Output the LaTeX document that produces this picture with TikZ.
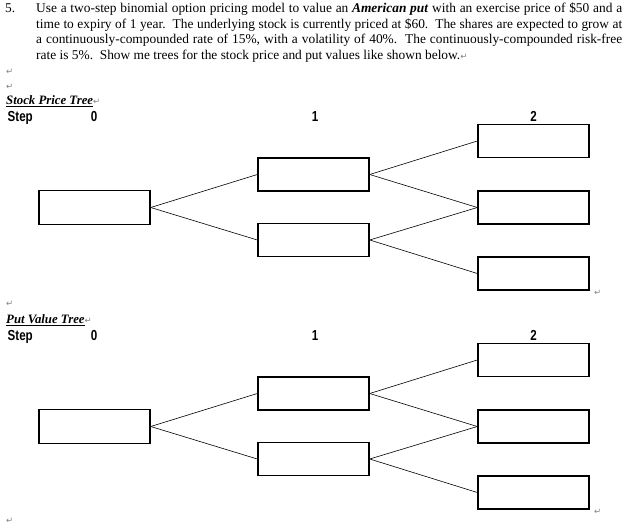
\documentclass[tikz,border=0pt]{standalone}
\usepackage{fontspec}
\setmainfont{Liberation Serif}
\newfontfamily\stepfont[FakeStretch=0.8]{Liberation Sans}
\newfontfamily\markfont{DejaVu Sans}
\usepackage{tikz}
\usetikzlibrary{positioning}

\newcommand{\retmark}{{\markfont\color{gray}\fontsize{8.5}{8.5}\selectfont ↵}}

\begin{document}
\begin{tikzpicture}[x=1pt,y=-1pt,
		value_box/.style={rectangle,draw=black,line width=1.4pt,minimum width=111pt,minimum height=33pt,inner sep=0pt},
		branch_edge/.style={line width=0.6pt,black},
		body_text/.style={anchor=base west,inner sep=0pt,font=\fontsize{13.4}{15}\selectfont},
		title_text/.style={anchor=base west,inner sep=0pt,font=\fontsize{12.8}{15}\selectfont},
		step_label/.style={anchor=base,inner sep=0pt,font=\stepfont\bfseries\fontsize{14.5}{16}\selectfont},
		mark_label/.style={anchor=base west,inner sep=0pt}
		]
		\useasboundingbox (0,0) rectangle (633,527);
		
		% question text
		\node[body_text] (qnum) at (5,13) {5.};
		\node[body_text] (q1) at (36,13) {\makebox[586pt][s]{Use a two-step binomial option pricing model to value an \textbf{\textit{American put}} with an exercise price of \$50 and a}};
		\node[body_text] (q2) at (36,28.5) {\makebox[586pt][s]{time to expiry of 1 year.\ \ The underlying stock is currently priced at \$60.\ \ The shares are expected to grow at}};
		\node[body_text] (q3) at (36,44) {\makebox[586pt][s]{a continuously-compounded rate of 15\%, with a volatility of 40\%.\ \ The continuously-compounded risk-free}};
		\node[body_text] (q4) at (36,59.5) {rate is 5\%.\ \ Show me trees for the stock price and put values like shown below.\retmark};
		\node[mark_label] (r1) at (6,75) {\retmark};
		\node[mark_label] (r2) at (6,90) {\retmark};
		
		% both trees, the put tree is 219 lower
		\foreach \tr/\off/\title in {s/0/Stock Price Tree, p/219/Put Value Tree} {
			\begin{scope}[shift={(0,\off)}]
				\node[title_text] (\tr_title) at (6,104.5) {\underline{\textbf{\textit{\title}}}\retmark};
				\node[step_label,anchor=base west] (\tr_step) at (7.5,121.5) {Step};
				\node[step_label] (\tr_n0) at (94,121.5) {0};
				\node[step_label] (\tr_n1) at (315,121.5) {1};
				\node[step_label] (\tr_n2) at (533.5,121.5) {2};
				
				\node[value_box,minimum height=34pt] (\tr_0) at (94.5,207.5) {};
				\node[value_box] (\tr_u) at (313.5,174.5) {};
				\node[value_box] (\tr_d) at (313.5,240) {};
				\node[value_box] (\tr_uu) at (533.5,141) {};
				\node[value_box] (\tr_ud) at (533.5,207.5) {};
				\node[value_box] (\tr_dd) at (533.5,273.5) {};
				
				\draw[branch_edge] (\tr_0.east) -- (\tr_u.west);
				\draw[branch_edge] (\tr_0.east) -- (\tr_d.west);
				\draw[branch_edge] (\tr_u.east) -- (\tr_uu.west);
				\draw[branch_edge] (\tr_u.east) -- (\tr_ud.west);
				\draw[branch_edge] (\tr_d.east) -- (\tr_ud.west);
				\draw[branch_edge] (\tr_d.east) -- (\tr_dd.west);
				
				\node[mark_label] (\tr_end) at (594,295) {\retmark};
			\end{scope}
		}
		\node[mark_label] (r3) at (6,306) {\retmark};
		\node[mark_label] (r4) at (6,523) {\retmark};
	\end{tikzpicture}
\end{document}
